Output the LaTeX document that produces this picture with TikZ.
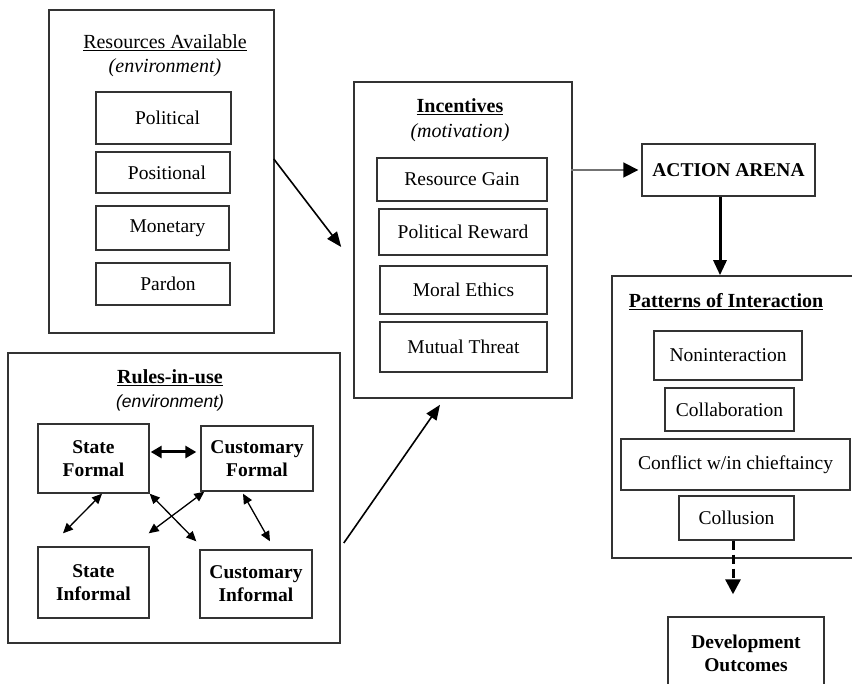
\documentclass[tikz,border=0pt]{standalone}
\usepackage{fontspec}
\setmainfont{Liberation Serif}
\newfontfamily\arialfont{Liberation Sans}
\usetikzlibrary{arrows.meta}
\begin{document}
\begin{tikzpicture}[x=1pt,y=-1pt,
  every node/.style={font=\fontsize{19.5}{23}\selectfont, align=center},
  bx/.style 2 args={draw=black!80, line width=1.4pt, inner sep=0pt, minimum width=#1, minimum height=#2},
  outer/.style 2 args={draw=black!80, line width=1.6pt, inner sep=0pt, minimum width=#1, minimum height=#2},
  bigarrow/.style={line width=1.6pt, -{Triangle[length=15pt,width=12pt]}},
  dbl/.style={line width=1.3pt, {Triangle[length=10pt,width=9pt]}-{Triangle[length=10pt,width=9pt]}},
  thickdbl/.style={line width=3pt, {Triangle[length=11pt,width=12pt]}-{Triangle[length=11pt,width=12pt]}},
  titlefont/.style={font=\fontsize{20}{23}\selectfont}
]
\clip (0,0) rectangle (852,684);
\fill[white] (0,0) rectangle (852,684);

% Resources Available
\node[outer={225pt}{323pt}] (res) at (161.5,171.5) {};
\node[titlefont] (resT) at (165,43) {\underline{Resources Available}};
\node[titlefont] (resE) at (165,68) {\textit{(environment)}};
\node[bx={135pt}{52pt}] (pol) at (163.5,118) {\hspace*{8pt}Political};
\node[bx={134pt}{41pt}] (pos) at (163,172.5) {\hspace*{8pt}Positional};
\node[bx={133pt}{44pt}] (mon) at (162.5,228) {\hspace*{10pt}Monetary};
\node[bx={134pt}{42pt}] (par) at (163,284) {\hspace*{10pt}Pardon};

% Rules-in-use
\node[outer={332pt}{290pt}] (rul) at (174,498) {};
\node[titlefont] (rulT) at (170,378) {\textbf{\underline{Rules-in-use}}};
\node[font=\fontsize{17.5}{20}\selectfont] (rulE) at (170,403) {\arialfont\itshape (environment)};
\node[bx={111pt}{69pt}] (sf) at (93.5,458.5) {\textbf{State}\\\textbf{Formal}};
\node[bx={112pt}{65pt}] (cf) at (257,458.5) {\textbf{Customary}\\\textbf{Formal}};
\node[bx={111pt}{71pt}] (si) at (93.5,582.5) {\textbf{State}\\\textbf{Informal}};
\node[bx={112pt}{68pt}] (ci) at (256,584) {\textbf{Customary}\\\textbf{Informal}};

\draw[thickdbl] ([xshift=1pt,yshift=6.5pt]sf.east) -- ([xshift=-4pt,yshift=6.5pt]cf.west);
\draw[dbl] ([xshift=8.5pt]sf.south) -- ([xshift=-30.5pt,yshift=13pt]si.north);
\draw[dbl] (sf.south east) -- ([xshift=-3pt,yshift=8pt]ci.north west);
\draw[dbl] ([xshift=4pt]cf.south west) -- ([xshift=-1pt,yshift=13pt]si.north east);
\draw[dbl] ([xshift=-14pt,yshift=-2pt]cf.south) -- ([xshift=14pt,yshift=8pt]ci.north);

% Incentives
\node[outer={218pt}{316pt}] (inc) at (463,240) {};
\node[titlefont] (incT) at (460,107) {\textbf{\underline{Incentives}}};
\node[titlefont] (incE) at (460,133) {\textit{(motivation)}};
\node[bx={170pt}{43pt}] (rg) at (462,179.5) {Resource Gain};
\node[bx={168pt}{46pt}] (pr) at (463,232) {Political Reward};
\node[bx={167pt}{48pt}] (me) at (463.5,290) {Moral Ethics};
\node[bx={167pt}{50pt}] (mt) at (463.5,347) {Mutual Threat};

% Action arena
\node[bx={173pt}{52pt}] (act) at (728.5,170) {\textbf{ACTION ARENA}};

% Patterns of interaction
\node[outer={258pt}{282pt}] (pat) at (741,417) {};
\node[titlefont] (patT) at (726,302) {\textbf{\underline{Patterns of Interaction}}};
\node[bx={148pt}{49pt}] (non) at (728,355.5) {Noninteraction};
\node[bx={129pt}{43pt}] (col) at (729.5,409.5) {Collaboration};
\node[bx={229pt}{51pt}] (con) at (735.5,464.5) {Conflict w/in chieftaincy};
\node[bx={115pt}{44pt}] (clu) at (736.5,518) {Collusion};

% Development outcomes
\node[bx={156pt}{73pt}] (dev) at (746,653.5) {\textbf{Development}\\\textbf{Outcomes}};

% Connectors
\draw[bigarrow] ([xshift=-1pt,yshift=12.5pt]res.east) -- ([xshift=-12pt,yshift=-7pt]inc.west);
\draw[bigarrow] ([xshift=3pt,yshift=-45pt]rul.east) -- ([xshift=-23pt,yshift=-6pt]inc.south);
\draw[line width=1.8pt, draw=black!55, -{Triangle[length=15pt,width=15pt,color=black]}] ([xshift=-2pt]inc.east |- act.west) -- ([xshift=-3pt]act.west);
\draw[line width=3pt, -{Triangle[length=15pt,width=13pt]}] ([xshift=-8.5pt]act.south) -- ([xshift=-8.5pt]act.south |- pat.north);
\draw[line width=3pt, dash pattern=on 9pt off 5pt, -{Triangle[length=15pt,width=15pt]}] ([xshift=-3.5pt]clu.south) -- ([xshift=-13pt,yshift=22pt]dev.north);
\end{tikzpicture}
\end{document}
